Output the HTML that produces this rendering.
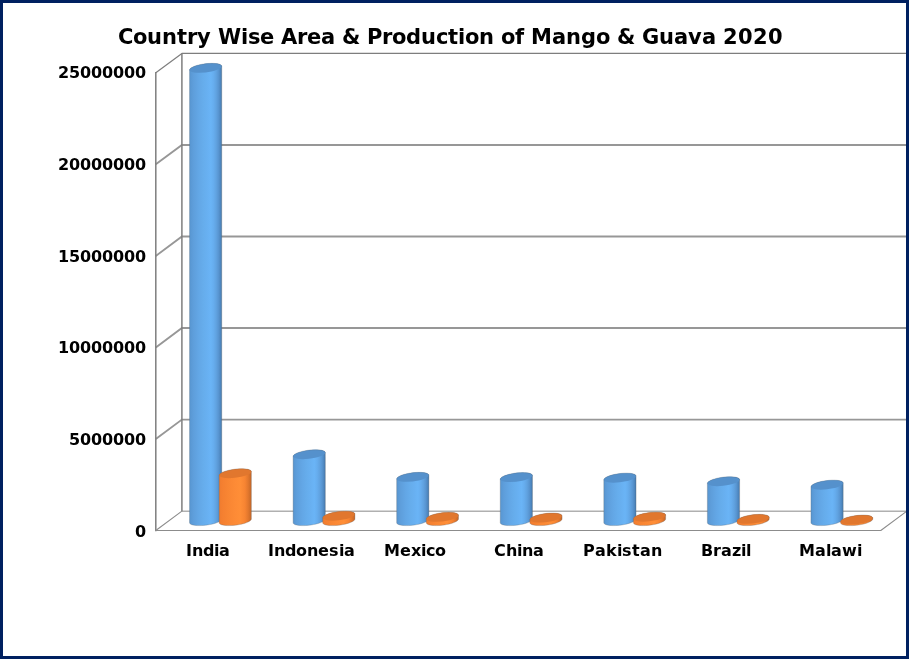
<!DOCTYPE html>
<html lang="en"><head><meta charset="utf-8"><title>Country Wise Area &amp; Production of Mango &amp; Guava 2020</title>
<style>
html,body{margin:0;padding:0;background:#fff;}
body{width:909px;height:659px;overflow:hidden;position:relative;}
#bg{position:absolute;left:0;top:0;width:909px;height:659px;background:#ffffff;}
#frame{position:absolute;left:0;top:0;width:903px;height:653px;border:3px solid #002060;z-index:5;}
svg{position:absolute;left:0;top:0;will-change:transform;transform:translateZ(0);}
text{font-family:"DejaVu Sans","Liberation Sans",sans-serif;font-weight:bold;fill:#000;}
.t{font-size:21px;}
.l{font-size:16px;}
</style></head><body>
<div id="bg"></div>
<svg width="909" height="659" viewBox="0 0 909 659">
<defs>
<linearGradient id="gb" x1="0" x2="1" y1="0" y2="0">
<stop offset="0" stop-color="#5795d0"/><stop offset="0.06" stop-color="#5b9ad6"/><stop offset="0.115" stop-color="#5e9edb"/><stop offset="0.29" stop-color="#63a7e6"/><stop offset="0.43" stop-color="#66adec"/><stop offset="0.545" stop-color="#68b0f1"/><stop offset="0.66" stop-color="#6ab4f6"/><stop offset="0.745" stop-color="#66adee"/><stop offset="0.83" stop-color="#60a2e0"/><stop offset="0.9" stop-color="#5895d1"/><stop offset="0.96" stop-color="#4d86be"/><stop offset="1" stop-color="#4678aa"/>
</linearGradient>
<linearGradient id="go" x1="0" x2="1" y1="0" y2="0">
<stop offset="0" stop-color="#ee7b2e"/><stop offset="0.08" stop-color="#f47f30"/><stop offset="0.3" stop-color="#f98633"/><stop offset="0.5" stop-color="#fd8b36"/><stop offset="0.66" stop-color="#ff8e37"/><stop offset="0.8" stop-color="#f78432"/><stop offset="0.9" stop-color="#e2772d"/><stop offset="1" stop-color="#c46627"/>
</linearGradient>
</defs>
<g><path d="M155.80 439.00L181.90 419.60H906.89" fill="none" stroke="#979797" stroke-width="1.9"/>
<path d="M155.80 347.45L181.90 328.05H906.89" fill="none" stroke="#979797" stroke-width="1.9"/>
<path d="M155.80 255.90L181.90 236.50H906.89" fill="none" stroke="#979797" stroke-width="1.9"/>
<path d="M155.80 164.35L181.90 144.95H906.89" fill="none" stroke="#979797" stroke-width="1.9"/>
<path d="M181.90 511.15H906.89" fill="none" stroke="#b0b0b0" stroke-width="1.5"/>
<path d="M155.80 72.80L181.90 53.40H906.89" fill="none" stroke="#7e7e7e" stroke-width="1.2" stroke-linejoin="round"/>
<path d="M155.80 72.80V530.55" fill="none" stroke="#7e7e7e" stroke-width="1.5" stroke-linecap="square"/>
<path d="M181.90 53.40V511.15" fill="none" stroke="#7e7e7e" stroke-width="1.5"/>
<path d="M906.89 53.40V511.15" fill="none" stroke="#7e7e7e" stroke-width="1"/>
<path d="M181.90 511.15L155.80 530.55H880.79L906.89 511.15" fill="none" stroke="#8c8c8c" stroke-width="1.1" stroke-linejoin="round"/></g>
<path d="M189.53 522.73L189.67 523.29L190.08 523.80L190.76 524.26L191.69 524.66L192.86 525.00L194.25 525.27L195.84 525.46L197.59 525.57L199.48 525.60L201.48 525.55L203.55 525.42L205.65 525.21L207.75 524.93L209.82 524.57L211.82 524.16L213.71 523.69L215.46 523.16L217.05 522.60L218.44 522.01L219.61 521.40L220.54 520.78L221.22 520.16L221.63 519.55L221.77 518.97L221.77 66.22L221.63 65.66L221.22 65.15L220.54 64.69L219.61 64.29L218.44 63.95L217.05 63.68L215.46 63.49L213.71 63.38L211.82 63.35L209.82 63.40L207.75 63.53L205.65 63.74L203.55 64.02L201.48 64.38L199.48 64.79L197.59 65.26L195.84 65.79L194.25 66.35L192.86 66.94L191.69 67.55L190.76 68.17L190.08 68.79L189.67 69.40L189.53 69.98Z" fill="url(#gb)"/>
<ellipse cx="0" cy="0" rx="14.8" ry="4.75" transform="translate(205.65 68.10) matrix(1 0 -1.3454 1 0 0)" fill="#5591cc"/>
<path d="M189.53 522.73L189.67 523.29L190.08 523.80L190.76 524.26L191.69 524.66L192.86 525.00L194.25 525.27L195.84 525.46L197.59 525.57L199.48 525.60L201.48 525.55L203.55 525.42L205.65 525.21L207.75 524.93L209.82 524.57L211.82 524.16L213.71 523.69L215.46 523.16L217.05 522.60L218.44 522.01L219.61 521.40L220.54 520.78L221.22 520.16L221.63 519.55L221.77 518.97L221.77 66.22L221.63 65.66L221.22 65.15L220.54 64.69L219.61 64.29L218.44 63.95L217.05 63.68L215.46 63.49L213.71 63.38L211.82 63.35L209.82 63.40L207.75 63.53L205.65 63.74L203.55 64.02L201.48 64.38L199.48 64.79L197.59 65.26L195.84 65.79L194.25 66.35L192.86 66.94L191.69 67.55L190.76 68.17L190.08 68.79L189.67 69.40L189.53 69.98Z" fill="none" stroke="#5c636c" stroke-opacity="0.42" stroke-width="0.7"/>
<path d="M219.13 522.73L219.27 523.29L219.68 523.80L220.36 524.26L221.29 524.66L222.46 525.00L223.85 525.27L225.44 525.46L227.19 525.57L229.08 525.60L231.08 525.55L233.15 525.42L235.25 525.21L237.35 524.93L239.42 524.57L241.42 524.16L243.31 523.69L245.06 523.16L246.65 522.60L248.04 522.01L249.21 521.40L250.14 520.78L250.82 520.16L251.23 519.55L251.37 518.97L251.37 471.62L251.23 471.06L250.82 470.55L250.14 470.09L249.21 469.69L248.04 469.35L246.65 469.08L245.06 468.89L243.31 468.78L241.42 468.75L239.42 468.80L237.35 468.93L235.25 469.14L233.15 469.42L231.08 469.78L229.08 470.19L227.19 470.66L225.44 471.19L223.85 471.75L222.46 472.34L221.29 472.95L220.36 473.57L219.68 474.19L219.27 474.80L219.13 475.38Z" fill="url(#go)"/>
<ellipse cx="0" cy="0" rx="14.8" ry="4.75" transform="translate(235.25 473.50) matrix(1 0 -1.3454 1 0 0)" fill="#e1772e"/>
<path d="M219.13 522.73L219.27 523.29L219.68 523.80L220.36 524.26L221.29 524.66L222.46 525.00L223.85 525.27L225.44 525.46L227.19 525.57L229.08 525.60L231.08 525.55L233.15 525.42L235.25 525.21L237.35 524.93L239.42 524.57L241.42 524.16L243.31 523.69L245.06 523.16L246.65 522.60L248.04 522.01L249.21 521.40L250.14 520.78L250.82 520.16L251.23 519.55L251.37 518.97L251.37 471.62L251.23 471.06L250.82 470.55L250.14 470.09L249.21 469.69L248.04 469.35L246.65 469.08L245.06 468.89L243.31 468.78L241.42 468.75L239.42 468.80L237.35 468.93L235.25 469.14L233.15 469.42L231.08 469.78L229.08 470.19L227.19 470.66L225.44 471.19L223.85 471.75L222.46 472.34L221.29 472.95L220.36 473.57L219.68 474.19L219.27 474.80L219.13 475.38Z" fill="none" stroke="#5c636c" stroke-opacity="0.42" stroke-width="0.7"/>
<path d="M293.10 522.73L293.24 523.29L293.65 523.80L294.33 524.26L295.26 524.66L296.43 525.00L297.82 525.27L299.41 525.46L301.16 525.57L303.05 525.60L305.05 525.55L307.12 525.42L309.22 525.21L311.32 524.93L313.39 524.57L315.39 524.16L317.28 523.69L319.03 523.16L320.62 522.60L322.01 522.01L323.18 521.40L324.11 520.78L324.79 520.16L325.20 519.55L325.34 518.97L325.34 452.62L325.20 452.06L324.79 451.55L324.11 451.09L323.18 450.69L322.01 450.35L320.62 450.08L319.03 449.89L317.28 449.78L315.39 449.75L313.39 449.80L311.32 449.93L309.22 450.14L307.12 450.42L305.05 450.78L303.05 451.19L301.16 451.66L299.41 452.19L297.82 452.75L296.43 453.34L295.26 453.95L294.33 454.57L293.65 455.19L293.24 455.80L293.10 456.38Z" fill="url(#gb)"/>
<ellipse cx="0" cy="0" rx="14.8" ry="4.75" transform="translate(309.22 454.50) matrix(1 0 -1.3454 1 0 0)" fill="#5591cc"/>
<path d="M293.10 522.73L293.24 523.29L293.65 523.80L294.33 524.26L295.26 524.66L296.43 525.00L297.82 525.27L299.41 525.46L301.16 525.57L303.05 525.60L305.05 525.55L307.12 525.42L309.22 525.21L311.32 524.93L313.39 524.57L315.39 524.16L317.28 523.69L319.03 523.16L320.62 522.60L322.01 522.01L323.18 521.40L324.11 520.78L324.79 520.16L325.20 519.55L325.34 518.97L325.34 452.62L325.20 452.06L324.79 451.55L324.11 451.09L323.18 450.69L322.01 450.35L320.62 450.08L319.03 449.89L317.28 449.78L315.39 449.75L313.39 449.80L311.32 449.93L309.22 450.14L307.12 450.42L305.05 450.78L303.05 451.19L301.16 451.66L299.41 452.19L297.82 452.75L296.43 453.34L295.26 453.95L294.33 454.57L293.65 455.19L293.24 455.80L293.10 456.38Z" fill="none" stroke="#5c636c" stroke-opacity="0.42" stroke-width="0.7"/>
<path d="M322.70 522.73L322.84 523.29L323.25 523.80L323.93 524.26L324.86 524.66L326.03 525.00L327.42 525.27L329.01 525.46L330.76 525.57L332.65 525.60L334.65 525.55L336.72 525.42L338.82 525.21L340.92 524.93L342.99 524.57L344.99 524.16L346.88 523.69L348.63 523.16L350.22 522.60L351.61 522.01L352.78 521.40L353.71 520.78L354.39 520.16L354.80 519.55L354.94 518.97L354.94 514.02L354.80 513.46L354.39 512.95L353.71 512.49L352.78 512.09L351.61 511.75L350.22 511.48L348.63 511.29L346.88 511.18L344.99 511.15L342.99 511.20L340.92 511.33L338.82 511.54L336.72 511.82L334.65 512.18L332.65 512.59L330.76 513.06L329.01 513.59L327.42 514.15L326.03 514.74L324.86 515.35L323.93 515.97L323.25 516.59L322.84 517.20L322.70 517.78Z" fill="url(#go)"/>
<ellipse cx="0" cy="0" rx="14.8" ry="4.75" transform="translate(338.82 515.90) matrix(1 0 -1.3454 1 0 0)" fill="#e1772e"/>
<path d="M322.70 522.73L322.84 523.29L323.25 523.80L323.93 524.26L324.86 524.66L326.03 525.00L327.42 525.27L329.01 525.46L330.76 525.57L332.65 525.60L334.65 525.55L336.72 525.42L338.82 525.21L340.92 524.93L342.99 524.57L344.99 524.16L346.88 523.69L348.63 523.16L350.22 522.60L351.61 522.01L352.78 521.40L353.71 520.78L354.39 520.16L354.80 519.55L354.94 518.97L354.94 514.02L354.80 513.46L354.39 512.95L353.71 512.49L352.78 512.09L351.61 511.75L350.22 511.48L348.63 511.29L346.88 511.18L344.99 511.15L342.99 511.20L340.92 511.33L338.82 511.54L336.72 511.82L334.65 512.18L332.65 512.59L330.76 513.06L329.01 513.59L327.42 514.15L326.03 514.74L324.86 515.35L323.93 515.97L323.25 516.59L322.84 517.20L322.70 517.78Z" fill="none" stroke="#5c636c" stroke-opacity="0.42" stroke-width="0.7"/>
<path d="M396.67 522.73L396.81 523.29L397.22 523.80L397.90 524.26L398.83 524.66L400.00 525.00L401.39 525.27L402.98 525.46L404.73 525.57L406.62 525.60L408.62 525.55L410.69 525.42L412.79 525.21L414.89 524.93L416.96 524.57L418.96 524.16L420.85 523.69L422.60 523.16L424.19 522.60L425.58 522.01L426.75 521.40L427.68 520.78L428.36 520.16L428.77 519.55L428.91 518.97L428.91 475.22L428.77 474.66L428.36 474.15L427.68 473.69L426.75 473.29L425.58 472.95L424.19 472.68L422.60 472.49L420.85 472.38L418.96 472.35L416.96 472.40L414.89 472.53L412.79 472.74L410.69 473.02L408.62 473.38L406.62 473.79L404.73 474.26L402.98 474.79L401.39 475.35L400.00 475.94L398.83 476.55L397.90 477.17L397.22 477.79L396.81 478.40L396.67 478.98Z" fill="url(#gb)"/>
<ellipse cx="0" cy="0" rx="14.8" ry="4.75" transform="translate(412.79 477.10) matrix(1 0 -1.3454 1 0 0)" fill="#5591cc"/>
<path d="M396.67 522.73L396.81 523.29L397.22 523.80L397.90 524.26L398.83 524.66L400.00 525.00L401.39 525.27L402.98 525.46L404.73 525.57L406.62 525.60L408.62 525.55L410.69 525.42L412.79 525.21L414.89 524.93L416.96 524.57L418.96 524.16L420.85 523.69L422.60 523.16L424.19 522.60L425.58 522.01L426.75 521.40L427.68 520.78L428.36 520.16L428.77 519.55L428.91 518.97L428.91 475.22L428.77 474.66L428.36 474.15L427.68 473.69L426.75 473.29L425.58 472.95L424.19 472.68L422.60 472.49L420.85 472.38L418.96 472.35L416.96 472.40L414.89 472.53L412.79 472.74L410.69 473.02L408.62 473.38L406.62 473.79L404.73 474.26L402.98 474.79L401.39 475.35L400.00 475.94L398.83 476.55L397.90 477.17L397.22 477.79L396.81 478.40L396.67 478.98Z" fill="none" stroke="#5c636c" stroke-opacity="0.42" stroke-width="0.7"/>
<path d="M426.27 522.73L426.41 523.29L426.82 523.80L427.50 524.26L428.43 524.66L429.60 525.00L430.99 525.27L432.58 525.46L434.33 525.57L436.22 525.60L438.22 525.55L440.29 525.42L442.39 525.21L444.49 524.93L446.56 524.57L448.56 524.16L450.45 523.69L452.20 523.16L453.79 522.60L455.18 522.01L456.35 521.40L457.28 520.78L457.96 520.16L458.37 519.55L458.51 518.97L458.51 515.22L458.37 514.66L457.96 514.15L457.28 513.69L456.35 513.29L455.18 512.95L453.79 512.68L452.20 512.49L450.45 512.38L448.56 512.35L446.56 512.40L444.49 512.53L442.39 512.74L440.29 513.02L438.22 513.38L436.22 513.79L434.33 514.26L432.58 514.79L430.99 515.35L429.60 515.94L428.43 516.55L427.50 517.17L426.82 517.79L426.41 518.40L426.27 518.98Z" fill="url(#go)"/>
<ellipse cx="0" cy="0" rx="14.8" ry="4.75" transform="translate(442.39 517.10) matrix(1 0 -1.3454 1 0 0)" fill="#e1772e"/>
<path d="M426.27 522.73L426.41 523.29L426.82 523.80L427.50 524.26L428.43 524.66L429.60 525.00L430.99 525.27L432.58 525.46L434.33 525.57L436.22 525.60L438.22 525.55L440.29 525.42L442.39 525.21L444.49 524.93L446.56 524.57L448.56 524.16L450.45 523.69L452.20 523.16L453.79 522.60L455.18 522.01L456.35 521.40L457.28 520.78L457.96 520.16L458.37 519.55L458.51 518.97L458.51 515.22L458.37 514.66L457.96 514.15L457.28 513.69L456.35 513.29L455.18 512.95L453.79 512.68L452.20 512.49L450.45 512.38L448.56 512.35L446.56 512.40L444.49 512.53L442.39 512.74L440.29 513.02L438.22 513.38L436.22 513.79L434.33 514.26L432.58 514.79L430.99 515.35L429.60 515.94L428.43 516.55L427.50 517.17L426.82 517.79L426.41 518.40L426.27 518.98Z" fill="none" stroke="#5c636c" stroke-opacity="0.42" stroke-width="0.7"/>
<path d="M500.24 522.73L500.38 523.29L500.79 523.80L501.47 524.26L502.40 524.66L503.57 525.00L504.96 525.27L506.55 525.46L508.30 525.57L510.19 525.60L512.19 525.55L514.26 525.42L516.36 525.21L518.46 524.93L520.53 524.57L522.53 524.16L524.42 523.69L526.17 523.16L527.76 522.60L529.15 522.01L530.32 521.40L531.25 520.78L531.93 520.16L532.34 519.55L532.48 518.97L532.48 475.47L532.34 474.91L531.93 474.40L531.25 473.94L530.32 473.54L529.15 473.20L527.76 472.93L526.17 472.74L524.42 472.63L522.53 472.60L520.53 472.65L518.46 472.78L516.36 472.99L514.26 473.27L512.19 473.63L510.19 474.04L508.30 474.51L506.55 475.04L504.96 475.60L503.57 476.19L502.40 476.80L501.47 477.42L500.79 478.04L500.38 478.65L500.24 479.23Z" fill="url(#gb)"/>
<ellipse cx="0" cy="0" rx="14.8" ry="4.75" transform="translate(516.36 477.35) matrix(1 0 -1.3454 1 0 0)" fill="#5591cc"/>
<path d="M500.24 522.73L500.38 523.29L500.79 523.80L501.47 524.26L502.40 524.66L503.57 525.00L504.96 525.27L506.55 525.46L508.30 525.57L510.19 525.60L512.19 525.55L514.26 525.42L516.36 525.21L518.46 524.93L520.53 524.57L522.53 524.16L524.42 523.69L526.17 523.16L527.76 522.60L529.15 522.01L530.32 521.40L531.25 520.78L531.93 520.16L532.34 519.55L532.48 518.97L532.48 475.47L532.34 474.91L531.93 474.40L531.25 473.94L530.32 473.54L529.15 473.20L527.76 472.93L526.17 472.74L524.42 472.63L522.53 472.60L520.53 472.65L518.46 472.78L516.36 472.99L514.26 473.27L512.19 473.63L510.19 474.04L508.30 474.51L506.55 475.04L504.96 475.60L503.57 476.19L502.40 476.80L501.47 477.42L500.79 478.04L500.38 478.65L500.24 479.23Z" fill="none" stroke="#5c636c" stroke-opacity="0.42" stroke-width="0.7"/>
<path d="M529.84 522.73L529.98 523.29L530.39 523.80L531.07 524.26L532.00 524.66L533.17 525.00L534.56 525.27L536.15 525.46L537.90 525.57L539.79 525.60L541.79 525.55L543.86 525.42L545.96 525.21L548.06 524.93L550.13 524.57L552.13 524.16L554.02 523.69L555.77 523.16L557.36 522.60L558.75 522.01L559.92 521.40L560.85 520.78L561.53 520.16L561.94 519.55L562.08 518.97L562.08 515.92L561.94 515.36L561.53 514.85L560.85 514.39L559.92 513.99L558.75 513.65L557.36 513.38L555.77 513.19L554.02 513.08L552.13 513.05L550.13 513.10L548.06 513.23L545.96 513.44L543.86 513.72L541.79 514.08L539.79 514.49L537.90 514.96L536.15 515.49L534.56 516.05L533.17 516.64L532.00 517.25L531.07 517.87L530.39 518.49L529.98 519.10L529.84 519.68Z" fill="url(#go)"/>
<ellipse cx="0" cy="0" rx="14.8" ry="4.75" transform="translate(545.96 517.80) matrix(1 0 -1.3454 1 0 0)" fill="#e1772e"/>
<path d="M529.84 522.73L529.98 523.29L530.39 523.80L531.07 524.26L532.00 524.66L533.17 525.00L534.56 525.27L536.15 525.46L537.90 525.57L539.79 525.60L541.79 525.55L543.86 525.42L545.96 525.21L548.06 524.93L550.13 524.57L552.13 524.16L554.02 523.69L555.77 523.16L557.36 522.60L558.75 522.01L559.92 521.40L560.85 520.78L561.53 520.16L561.94 519.55L562.08 518.97L562.08 515.92L561.94 515.36L561.53 514.85L560.85 514.39L559.92 513.99L558.75 513.65L557.36 513.38L555.77 513.19L554.02 513.08L552.13 513.05L550.13 513.10L548.06 513.23L545.96 513.44L543.86 513.72L541.79 514.08L539.79 514.49L537.90 514.96L536.15 515.49L534.56 516.05L533.17 516.64L532.00 517.25L531.07 517.87L530.39 518.49L529.98 519.10L529.84 519.68Z" fill="none" stroke="#5c636c" stroke-opacity="0.42" stroke-width="0.7"/>
<path d="M603.81 522.73L603.95 523.29L604.36 523.80L605.04 524.26L605.97 524.66L607.14 525.00L608.53 525.27L610.12 525.46L611.87 525.57L613.76 525.60L615.76 525.55L617.83 525.42L619.93 525.21L622.03 524.93L624.10 524.57L626.10 524.16L627.99 523.69L629.74 523.16L631.33 522.60L632.72 522.01L633.89 521.40L634.82 520.78L635.50 520.16L635.91 519.55L636.05 518.97L636.05 476.02L635.91 475.46L635.50 474.95L634.82 474.49L633.89 474.09L632.72 473.75L631.33 473.48L629.74 473.29L627.99 473.18L626.10 473.15L624.10 473.20L622.03 473.33L619.93 473.54L617.83 473.82L615.76 474.18L613.76 474.59L611.87 475.06L610.12 475.59L608.53 476.15L607.14 476.74L605.97 477.35L605.04 477.97L604.36 478.59L603.95 479.20L603.81 479.78Z" fill="url(#gb)"/>
<ellipse cx="0" cy="0" rx="14.8" ry="4.75" transform="translate(619.93 477.90) matrix(1 0 -1.3454 1 0 0)" fill="#5591cc"/>
<path d="M603.81 522.73L603.95 523.29L604.36 523.80L605.04 524.26L605.97 524.66L607.14 525.00L608.53 525.27L610.12 525.46L611.87 525.57L613.76 525.60L615.76 525.55L617.83 525.42L619.93 525.21L622.03 524.93L624.10 524.57L626.10 524.16L627.99 523.69L629.74 523.16L631.33 522.60L632.72 522.01L633.89 521.40L634.82 520.78L635.50 520.16L635.91 519.55L636.05 518.97L636.05 476.02L635.91 475.46L635.50 474.95L634.82 474.49L633.89 474.09L632.72 473.75L631.33 473.48L629.74 473.29L627.99 473.18L626.10 473.15L624.10 473.20L622.03 473.33L619.93 473.54L617.83 473.82L615.76 474.18L613.76 474.59L611.87 475.06L610.12 475.59L608.53 476.15L607.14 476.74L605.97 477.35L605.04 477.97L604.36 478.59L603.95 479.20L603.81 479.78Z" fill="none" stroke="#5c636c" stroke-opacity="0.42" stroke-width="0.7"/>
<path d="M633.41 522.73L633.55 523.29L633.96 523.80L634.64 524.26L635.57 524.66L636.74 525.00L638.13 525.27L639.72 525.46L641.47 525.57L643.36 525.60L645.36 525.55L647.43 525.42L649.53 525.21L651.63 524.93L653.70 524.57L655.70 524.16L657.59 523.69L659.34 523.16L660.93 522.60L662.32 522.01L663.49 521.40L664.42 520.78L665.10 520.16L665.51 519.55L665.65 518.97L665.65 515.02L665.51 514.46L665.10 513.95L664.42 513.49L663.49 513.09L662.32 512.75L660.93 512.48L659.34 512.29L657.59 512.18L655.70 512.15L653.70 512.20L651.63 512.33L649.53 512.54L647.43 512.82L645.36 513.18L643.36 513.59L641.47 514.06L639.72 514.59L638.13 515.15L636.74 515.74L635.57 516.35L634.64 516.97L633.96 517.59L633.55 518.20L633.41 518.78Z" fill="url(#go)"/>
<ellipse cx="0" cy="0" rx="14.8" ry="4.75" transform="translate(649.53 516.90) matrix(1 0 -1.3454 1 0 0)" fill="#e1772e"/>
<path d="M633.41 522.73L633.55 523.29L633.96 523.80L634.64 524.26L635.57 524.66L636.74 525.00L638.13 525.27L639.72 525.46L641.47 525.57L643.36 525.60L645.36 525.55L647.43 525.42L649.53 525.21L651.63 524.93L653.70 524.57L655.70 524.16L657.59 523.69L659.34 523.16L660.93 522.60L662.32 522.01L663.49 521.40L664.42 520.78L665.10 520.16L665.51 519.55L665.65 518.97L665.65 515.02L665.51 514.46L665.10 513.95L664.42 513.49L663.49 513.09L662.32 512.75L660.93 512.48L659.34 512.29L657.59 512.18L655.70 512.15L653.70 512.20L651.63 512.33L649.53 512.54L647.43 512.82L645.36 513.18L643.36 513.59L641.47 514.06L639.72 514.59L638.13 515.15L636.74 515.74L635.57 516.35L634.64 516.97L633.96 517.59L633.55 518.20L633.41 518.78Z" fill="none" stroke="#5c636c" stroke-opacity="0.42" stroke-width="0.7"/>
<path d="M707.38 522.73L707.52 523.29L707.93 523.80L708.61 524.26L709.54 524.66L710.71 525.00L712.10 525.27L713.69 525.46L715.44 525.57L717.33 525.60L719.33 525.55L721.40 525.42L723.50 525.21L725.60 524.93L727.67 524.57L729.67 524.16L731.56 523.69L733.31 523.16L734.90 522.60L736.29 522.01L737.46 521.40L738.39 520.78L739.07 520.16L739.48 519.55L739.62 518.97L739.62 479.62L739.48 479.06L739.07 478.55L738.39 478.09L737.46 477.69L736.29 477.35L734.90 477.08L733.31 476.89L731.56 476.78L729.67 476.75L727.67 476.80L725.60 476.93L723.50 477.14L721.40 477.42L719.33 477.78L717.33 478.19L715.44 478.66L713.69 479.19L712.10 479.75L710.71 480.34L709.54 480.95L708.61 481.57L707.93 482.19L707.52 482.80L707.38 483.38Z" fill="url(#gb)"/>
<ellipse cx="0" cy="0" rx="14.8" ry="4.75" transform="translate(723.50 481.50) matrix(1 0 -1.3454 1 0 0)" fill="#5591cc"/>
<path d="M707.38 522.73L707.52 523.29L707.93 523.80L708.61 524.26L709.54 524.66L710.71 525.00L712.10 525.27L713.69 525.46L715.44 525.57L717.33 525.60L719.33 525.55L721.40 525.42L723.50 525.21L725.60 524.93L727.67 524.57L729.67 524.16L731.56 523.69L733.31 523.16L734.90 522.60L736.29 522.01L737.46 521.40L738.39 520.78L739.07 520.16L739.48 519.55L739.62 518.97L739.62 479.62L739.48 479.06L739.07 478.55L738.39 478.09L737.46 477.69L736.29 477.35L734.90 477.08L733.31 476.89L731.56 476.78L729.67 476.75L727.67 476.80L725.60 476.93L723.50 477.14L721.40 477.42L719.33 477.78L717.33 478.19L715.44 478.66L713.69 479.19L712.10 479.75L710.71 480.34L709.54 480.95L708.61 481.57L707.93 482.19L707.52 482.80L707.38 483.38Z" fill="none" stroke="#5c636c" stroke-opacity="0.42" stroke-width="0.7"/>
<path d="M736.98 522.73L737.12 523.29L737.53 523.80L738.21 524.26L739.14 524.66L740.31 525.00L741.70 525.27L743.29 525.46L745.04 525.57L746.93 525.60L748.93 525.55L751.00 525.42L753.10 525.21L755.20 524.93L757.27 524.57L759.27 524.16L761.16 523.69L762.91 523.16L764.50 522.60L765.89 522.01L767.06 521.40L767.99 520.78L768.67 520.16L769.08 519.55L769.22 518.97L769.22 517.22L769.08 516.66L768.67 516.15L767.99 515.69L767.06 515.29L765.89 514.95L764.50 514.68L762.91 514.49L761.16 514.38L759.27 514.35L757.27 514.40L755.20 514.53L753.10 514.74L751.00 515.02L748.93 515.38L746.93 515.79L745.04 516.26L743.29 516.79L741.70 517.35L740.31 517.94L739.14 518.55L738.21 519.17L737.53 519.79L737.12 520.40L736.98 520.98Z" fill="url(#go)"/>
<ellipse cx="0" cy="0" rx="14.8" ry="4.75" transform="translate(753.10 519.10) matrix(1 0 -1.3454 1 0 0)" fill="#e1772e"/>
<path d="M736.98 522.73L737.12 523.29L737.53 523.80L738.21 524.26L739.14 524.66L740.31 525.00L741.70 525.27L743.29 525.46L745.04 525.57L746.93 525.60L748.93 525.55L751.00 525.42L753.10 525.21L755.20 524.93L757.27 524.57L759.27 524.16L761.16 523.69L762.91 523.16L764.50 522.60L765.89 522.01L767.06 521.40L767.99 520.78L768.67 520.16L769.08 519.55L769.22 518.97L769.22 517.22L769.08 516.66L768.67 516.15L767.99 515.69L767.06 515.29L765.89 514.95L764.50 514.68L762.91 514.49L761.16 514.38L759.27 514.35L757.27 514.40L755.20 514.53L753.10 514.74L751.00 515.02L748.93 515.38L746.93 515.79L745.04 516.26L743.29 516.79L741.70 517.35L740.31 517.94L739.14 518.55L738.21 519.17L737.53 519.79L737.12 520.40L736.98 520.98Z" fill="none" stroke="#5c636c" stroke-opacity="0.42" stroke-width="0.7"/>
<path d="M810.95 522.73L811.09 523.29L811.50 523.80L812.18 524.26L813.11 524.66L814.28 525.00L815.67 525.27L817.26 525.46L819.01 525.57L820.90 525.60L822.90 525.55L824.97 525.42L827.07 525.21L829.17 524.93L831.24 524.57L833.24 524.16L835.13 523.69L836.88 523.16L838.47 522.60L839.86 522.01L841.03 521.40L841.96 520.78L842.64 520.16L843.05 519.55L843.19 518.97L843.19 483.02L843.05 482.46L842.64 481.95L841.96 481.49L841.03 481.09L839.86 480.75L838.47 480.48L836.88 480.29L835.13 480.18L833.24 480.15L831.24 480.20L829.17 480.33L827.07 480.54L824.97 480.82L822.90 481.18L820.90 481.59L819.01 482.06L817.26 482.59L815.67 483.15L814.28 483.74L813.11 484.35L812.18 484.97L811.50 485.59L811.09 486.20L810.95 486.78Z" fill="url(#gb)"/>
<ellipse cx="0" cy="0" rx="14.8" ry="4.75" transform="translate(827.07 484.90) matrix(1 0 -1.3454 1 0 0)" fill="#5591cc"/>
<path d="M810.95 522.73L811.09 523.29L811.50 523.80L812.18 524.26L813.11 524.66L814.28 525.00L815.67 525.27L817.26 525.46L819.01 525.57L820.90 525.60L822.90 525.55L824.97 525.42L827.07 525.21L829.17 524.93L831.24 524.57L833.24 524.16L835.13 523.69L836.88 523.16L838.47 522.60L839.86 522.01L841.03 521.40L841.96 520.78L842.64 520.16L843.05 519.55L843.19 518.97L843.19 483.02L843.05 482.46L842.64 481.95L841.96 481.49L841.03 481.09L839.86 480.75L838.47 480.48L836.88 480.29L835.13 480.18L833.24 480.15L831.24 480.20L829.17 480.33L827.07 480.54L824.97 480.82L822.90 481.18L820.90 481.59L819.01 482.06L817.26 482.59L815.67 483.15L814.28 483.74L813.11 484.35L812.18 484.97L811.50 485.59L811.09 486.20L810.95 486.78Z" fill="none" stroke="#5c636c" stroke-opacity="0.42" stroke-width="0.7"/>
<path d="M840.55 522.73L840.69 523.29L841.10 523.80L841.78 524.26L842.71 524.66L843.88 525.00L845.27 525.27L846.86 525.46L848.61 525.57L850.50 525.60L852.50 525.55L854.57 525.42L856.67 525.21L858.77 524.93L860.84 524.57L862.84 524.16L864.73 523.69L866.48 523.16L868.07 522.60L869.46 522.01L870.63 521.40L871.56 520.78L872.24 520.16L872.65 519.55L872.79 518.97L872.79 517.97L872.65 517.41L872.24 516.90L871.56 516.44L870.63 516.04L869.46 515.70L868.07 515.43L866.48 515.24L864.73 515.13L862.84 515.10L860.84 515.15L858.77 515.28L856.67 515.49L854.57 515.77L852.50 516.13L850.50 516.54L848.61 517.01L846.86 517.54L845.27 518.10L843.88 518.69L842.71 519.30L841.78 519.92L841.10 520.54L840.69 521.15L840.55 521.73Z" fill="url(#go)"/>
<ellipse cx="0" cy="0" rx="14.8" ry="4.75" transform="translate(856.67 519.85) matrix(1 0 -1.3454 1 0 0)" fill="#e1772e"/>
<path d="M840.55 522.73L840.69 523.29L841.10 523.80L841.78 524.26L842.71 524.66L843.88 525.00L845.27 525.27L846.86 525.46L848.61 525.57L850.50 525.60L852.50 525.55L854.57 525.42L856.67 525.21L858.77 524.93L860.84 524.57L862.84 524.16L864.73 523.69L866.48 523.16L868.07 522.60L869.46 522.01L870.63 521.40L871.56 520.78L872.24 520.16L872.65 519.55L872.79 518.97L872.79 517.97L872.65 517.41L872.24 516.90L871.56 516.44L870.63 516.04L869.46 515.70L868.07 515.43L866.48 515.24L864.73 515.13L862.84 515.10L860.84 515.15L858.77 515.28L856.67 515.49L854.57 515.77L852.50 516.13L850.50 516.54L848.61 517.01L846.86 517.54L845.27 518.10L843.88 518.69L842.71 519.30L841.78 519.92L841.10 520.54L840.69 521.15L840.55 521.73Z" fill="none" stroke="#5c636c" stroke-opacity="0.42" stroke-width="0.7"/>
<text class="t" x="118 133 147 162 177 187 197 211 218 241 248 260 274 281 297 307 321 335 342 360 367 382 392 406 421 436 448 458 465 479 494 501 515 524 531 552 566 581 596 610 617 635 642 659 674 688 702 716 723 738 753 768" y="44">Country Wise Area &amp; Production of Mango &amp; Guava 2020</text>
<text class="l" x="135" y="536.9">0</text>
<text class="l" x="69 80 91 102 113 124 135" y="444.9">5000000</text>
<text class="l" x="58 69 80 91 102 113 124 135" y="352.9">10000000</text>
<text class="l" x="58 69 80 91 102 113 124 135" y="261.9">15000000</text>
<text class="l" x="58 69 80 91 102 113 124 135" y="169.9">20000000</text>
<text class="l" x="58 69 80 91 102 113 124 135" y="77.9">25000000</text>
<text class="l" x="186 192 203 214 219" y="555.9">India</text>
<text class="l" x="268 274 285 296 307 318 329 339 344" y="555.9">Indonesia</text>
<text class="l" x="384 400 411 421 426 435" y="555.9">Mexico</text>
<text class="l" x="494 506 517 522 533" y="555.9">China</text>
<text class="l" x="583 595 606 617 622 632 640 651" y="555.9">Pakistan</text>
<text class="l" x="701 713 721 732 741 746" y="555.9">Brazil</text>
<text class="l" x="799 815 826 831 842 857" y="555.9">Malawi</text>
</svg>
<div id="frame"></div>
</body></html>
